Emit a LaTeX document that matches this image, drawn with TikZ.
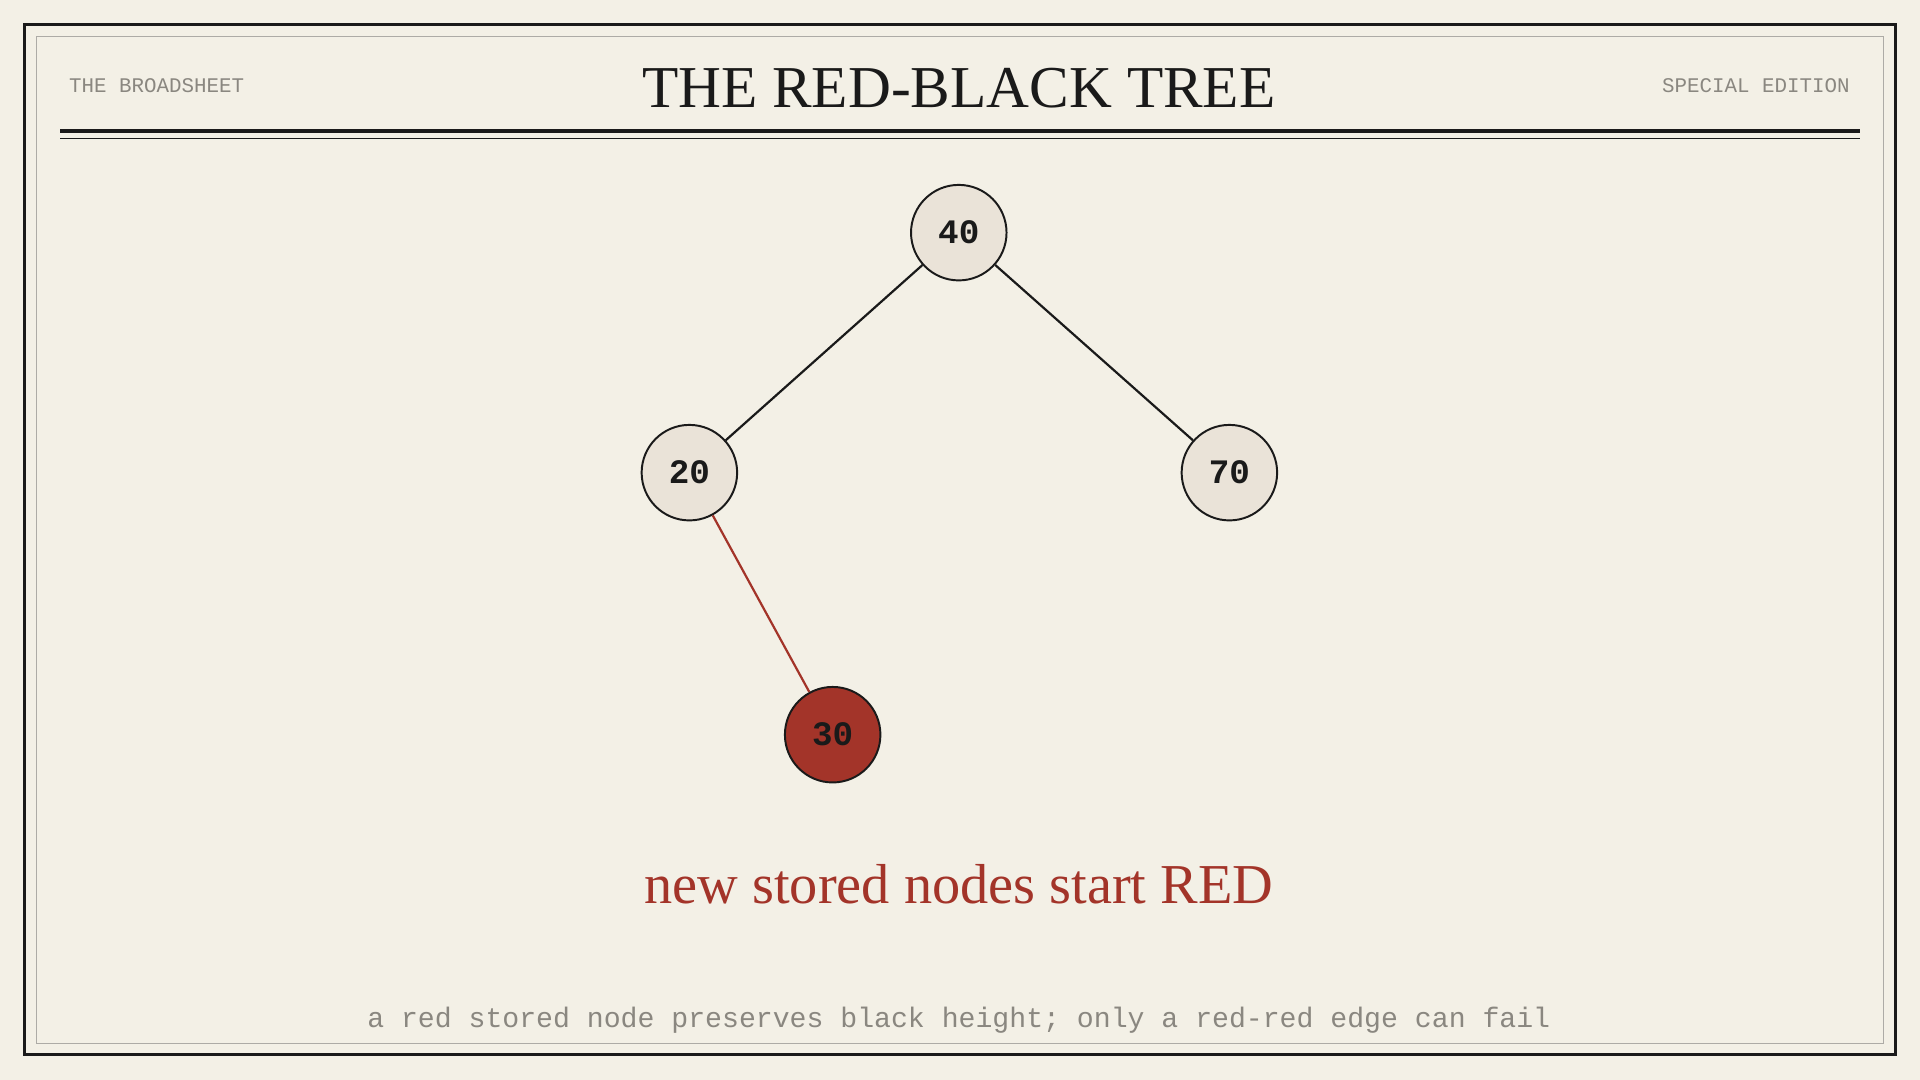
\documentclass[tikz,border=0pt]{standalone}
\usepackage{fontspec}
\setmainfont{Liberation Serif}
\newfontfamily\monof{Liberation Mono}
\definecolor{bg}{HTML}{F3F0E6}
\definecolor{nodefill}{HTML}{EAE3D8}
\definecolor{redc}{HTML}{A33429}
\definecolor{ink}{HTML}{1A1A1A}
\definecolor{grayt}{HTML}{8A8780}
\begin{document}
\begin{tikzpicture}[x=1pt,y=-1pt,
  tn/.style={circle,draw=ink,line width=1.6pt,fill=nodefill,minimum size=78pt,inner sep=0pt,font=\monof\bfseries\fontsize{28}{30}\selectfont,text=ink},
  edge/.style={line width=1.8pt,draw=ink}]
\fill[bg] (0,0) rectangle (1568,882);
\useasboundingbox (0,0) rectangle (1568,882);
\draw[ink,line width=2pt] (20,20) rectangle (1548,861);
\draw[grayt!70,line width=0.8pt] (30,30) rectangle (1538,852);
\draw[ink,line width=3pt] (49,107) -- (1519,107);
\draw[ink,line width=0.8pt] (49,113) -- (1519,113);
\node[anchor=west,text=grayt,font=\monof\fontsize{17}{19}\selectfont] (lh) at (53,70) {THE BROADSHEET};
\node[anchor=east,text=grayt,font=\monof\fontsize{17}{19}\selectfont] (rh) at (1514,70) {SPECIAL EDITION};
\node[text=ink,font=\fontsize{48.5}{52}\selectfont] (title) at (783,72) {THE RED-BLACK TREE};
\node[tn] (n40) at (783,190) {40};
\node[tn] (n20) at (563,386) {20};
\node[tn] (n70) at (1004,386) {70};
\node[tn,fill=redc] (n30) at (680,600) {30};
\draw[edge] (n40) -- (n20);
\draw[edge] (n40) -- (n70);
\draw[edge,draw=redc] (n20) -- (n30);
\node[text=redc,font=\fontsize{46}{50}\selectfont] (cap) at (783,722) {new stored nodes start RED};
\node[text=grayt,font=\monof\fontsize{23}{25}\selectfont] (foot) at (783,833) {a red stored node preserves black height; only a red-red edge can fail};
\end{tikzpicture}
\end{document}
